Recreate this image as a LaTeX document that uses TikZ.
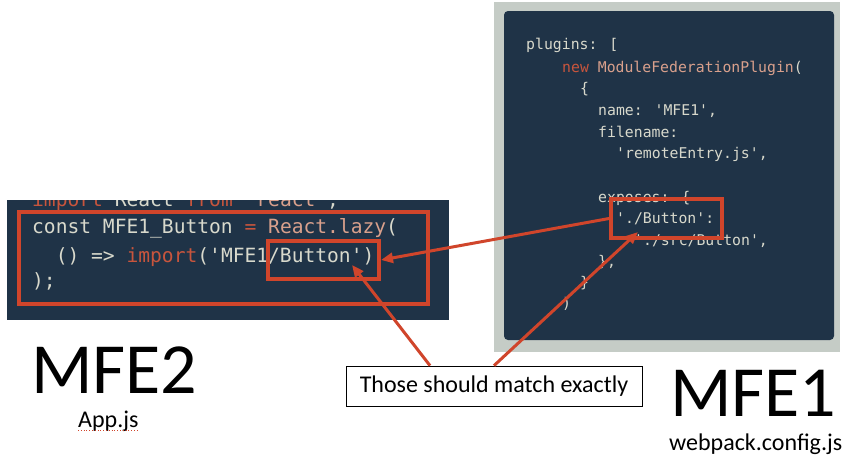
\documentclass[tikz,border=0pt]{standalone}
\usepackage{fontspec}
\setmainfont{Carlito}
\newfontfamily\codefont{DejaVu Sans Mono}
\usetikzlibrary{arrows.meta}
\definecolor{codebg}{HTML}{1F3347}
\definecolor{codefg}{HTML}{D8D9CC}
\definecolor{kwred}{HTML}{C8553D}
\definecolor{fnpink}{HTML}{D9A08C}
\definecolor{markred}{HTML}{D0452B}
\definecolor{framegray}{HTML}{C5CCC6}
\newcommand{\sq}{\textquotesingle}
\newcommand{\us}{\char`\_}

\begin{document}
\begin{tikzpicture}[x=1pt, y=-1pt,
    code/.style={anchor=base west, inner sep=0pt, text=codefg,
                 font=\codefont\fontsize{19.6}{22}\selectfont},
    cfg/.style={anchor=base west, inner sep=0pt, text=codefg,
                font=\codefont\fontsize{14.8}{17}\selectfont},
    hlbox/.style={draw=markred, line width=4pt, inner sep=0pt},
    bigname/.style={anchor=base west, inner sep=0pt, font=\fontsize{72}{80}\selectfont},
    subname/.style={anchor=base west, inner sep=0pt, font=\fontsize{24}{28}\selectfont},
    notebox/.style={draw=black, line width=0.8pt, minimum width=296pt, minimum height=40pt,
                    inner sep=0pt, fill=white, font=\fontsize{24}{28}\selectfont},
    ar/.style={-{Triangle[length=12pt,width=10pt]}, line width=3pt, color=markred}]
    \useasboundingbox (0,0) rectangle (859,475);

    % MFE2 side: App.js snippet
    \begin{scope}
      \clip (7,200) rectangle (449,320);
      \fill[codebg] (7,200) rectangle (449,320);
      \node[code] (lnImport) at (32,206) {\textcolor{kwred}{import} React \textcolor{kwred}{from} \textcolor{fnpink}{\sq react\sq};};
      \node[code] (lnConst) at (32,233) {const MFE1\us Button \textcolor{kwred}{=} \textcolor{fnpink}{React.lazy}(};
      \node[code] (lnLazy) at (55.6,262) {() => \textcolor{kwred}{import}(\sq MFE1/Button\sq)};
      \node[code] (lnClose) at (32,287) {);};
    \end{scope}

    % MFE1 side: webpack.config.js snippet
    \fill[framegray] (494,2) rectangle (840,352);
    \fill[codebg, rounded corners=4pt] (504,11) rectangle (834,340);
    \node[cfg] (cfgPlugins) at (526,49)  {plugins: [};
    \node[cfg] (cfgNew)     at (562,72)  {\textcolor{kwred}{new} \textcolor{fnpink}{ModuleFederationPlugin}(};
    \node[cfg] (cfgOpen)    at (580,93)  {\{};
    \node[cfg] (cfgName)    at (598,115) {name: \sq MFE1\sq,};
    \node[cfg] (cfgFile)    at (598,137) {filename:};
    \node[cfg] (cfgEntry)   at (616,158) {\sq remoteEntry.js\sq,};
    \node[cfg] (cfgExposes) at (598,202) {exposes: \{};
    \node[cfg] (cfgButton)  at (616,223) {\sq./Button\sq:};
    \node[cfg] (cfgSrc)     at (634,245) {\sq./src/Button\sq,};
    \node[cfg] (cfgCloseA)  at (598,266) {\},};
    \node[cfg] (cfgCloseB)  at (580,287) {\}};
    \node[cfg] (cfgCloseC)  at (562,308) {)};

    % highlights
    \node[hlbox, minimum width=409pt, minimum height=92pt] (lazyBox) at (223.5,258) {};
    \node[hlbox, minimum width=111pt, minimum height=38pt] (btnL) at (323.5,260) {};
    \node[hlbox, minimum width=111pt, minimum height=39pt] (btnR) at (666.5,218.5) {};

    % labels
    \node[bigname] (mfeTwo) at (31,393) {MFE2};
    \node[subname] (appJs) at (78,427) {App.js};
    \draw[markred, line width=0.8pt, dotted] ([yshift=-3pt]appJs.base west) -- ([yshift=-3pt]appJs.base east);
    \node[bigname] (mfeOne) at (670,416) {MFE1};
    \node[subname] (webpackJs) at (669,450) {webpack.config.js};
    \node[notebox] (note) at (494,386) {Those should match exactly};

    % connectors
    \draw[ar] (btnR.west) -- (btnL.east);
    \draw[ar] ([xshift=-64pt]note.north) -- ([xshift=28.5pt,yshift=16pt]btnL.south);
    \draw[ar] (note.north) -- ([xshift=-28.5pt,yshift=8pt]btnR.south);
  \end{tikzpicture}
\end{document}
